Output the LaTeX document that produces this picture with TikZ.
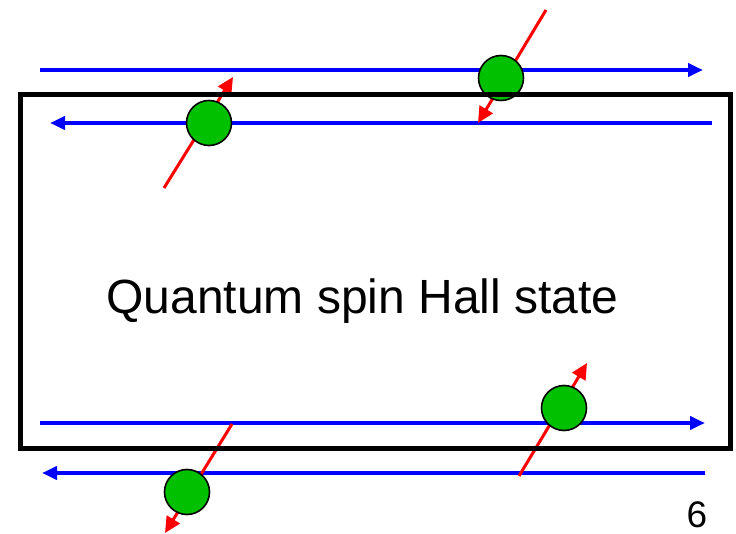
\documentclass[tikz,border=0pt]{standalone}
\usepackage{fontspec}
\setmainfont{Liberation Sans}
\usetikzlibrary{arrows.meta}
\definecolor{spingreen}{RGB}{0,192,0}
\begin{document}
\begin{tikzpicture}[x=1pt,y=-1pt,
  edge/.style={draw=blue, line width=4pt, -{Triangle[length=15pt,width=13pt]}},
  spin/.style={draw=red, line width=3pt, -{Triangle[length=16pt,width=15pt]}},
  electron/.style={circle, draw=black, line width=1.6pt, fill=spingreen, minimum size=45pt, inner sep=0pt},
  sample/.style={draw=black, line width=5pt}]
\useasboundingbox (0,0) rectangle (736,534);
% edge channels
\coordinate (t1s) at (40,70);  \coordinate (t1e) at (703,70);
\coordinate (t2s) at (712,123); \coordinate (t2e) at (50,123);
\coordinate (b1s) at (40,423); \coordinate (b1e) at (705,423);
\coordinate (b2s) at (705,473); \coordinate (b2e) at (42,473);
\draw[edge] (t1s) -- (t1e);
\draw[edge] (t2s) -- (t2e);
\draw[edge] (b1s) -- (b1e);
\draw[edge] (b2s) -- (b2e);
% spins
\coordinate (s1a) at (546,10);  \coordinate (s1b) at (478,123);
\coordinate (s2a) at (164,188); \coordinate (s2b) at (233,77);
\coordinate (s3a) at (519,476); \coordinate (s3b) at (587,363);
\coordinate (s4a) at (232,424); \coordinate (s4b) at (165,533);
\draw[spin] (s1a) -- (s1b);
\draw[spin] (s2a) -- (s2b);
\draw[spin] (s3a) -- (s3b);
\draw[spin] (s4a) -- (s4b);
% electrons
\node[electron] (e1) at (501,78) {};
\node[electron] (e2) at (209,123) {};
\node[electron] (e3) at (564,408) {};
\node[electron] (e4) at (187,492) {};
% sample
\node[sample, minimum width=710pt, minimum height=353pt, inner sep=0pt] (box) at (375,271.5) {};
\node[anchor=base, inner sep=0pt, font=\fontsize{48}{57}\selectfont] (label) at (362.5,314) {Quantum spin Hall state};
\node[anchor=base, inner sep=0pt, font=\fontsize{37}{44}\selectfont] (page) at (697,527) {6};
\end{tikzpicture}
\end{document}
